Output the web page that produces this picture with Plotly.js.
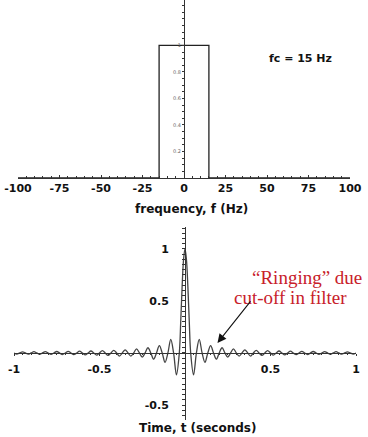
<!DOCTYPE html>
<html>
<head>
<meta charset="utf-8">
<script src="https://cdn.plot.ly/plotly-3.0.1.min.js"></script>
<style>
html,body{margin:0;padding:0;background:#fff;}
#chart{width:368px;height:437px;}
</style>
</head>
<body>
<div id="chart"></div>
<script>
// ---- top panel: ideal low-pass filter, fc = 15 Hz ----
const freqHz = [-100, -15, -15, 15, 15, 100];
const filterGain = [0, 0, 1, 1, 0, 0];
const freqTickVals = [-100, -75, -50, -25, 0, 25, 50, 75, 100];
const freqTickText = ['-100', '-75', '-50', '-25', '0', '25', '50', '75', '100'];
const gainTickVals = [0.2, 0.4, 0.6, 0.8, 1];
const gainTickText = ['0.2', '0.4', '0.6', '0.8', '1'];

// ---- bottom panel: impulse response (ringing) ----
const timeS = [
  -1, -0.9833, -0.9667, -0.95, -0.9333, -0.9167, -0.9, -0.8833, -0.8667, -0.85,
  -0.8333, -0.8167, -0.8, -0.7833, -0.7667, -0.75, -0.7333, -0.7167, -0.7, -0.6833,
  -0.6667, -0.65, -0.6333, -0.6167, -0.6, -0.5833, -0.5667, -0.55, -0.5333, -0.5167,
  -0.5, -0.4833, -0.4667, -0.45, -0.4333, -0.4167, -0.4, -0.3833, -0.3667, -0.35,
  -0.3333, -0.3167, -0.3, -0.2833, -0.2667, -0.25, -0.2333, -0.2167, -0.2, -0.1833,
  -0.1667, -0.15, -0.1333, -0.1167, -0.1, -0.0833, -0.0667, -0.05, -0.0333, -0.025,
  -0.0167, -0.0083, 0,
  0.0083, 0.0167, 0.025, 0.0333, 0.05, 0.0667, 0.0833, 0.1, 0.1167, 0.1333,
  0.15, 0.1667, 0.1833, 0.2, 0.2167, 0.2333, 0.25, 0.2667, 0.2833, 0.3,
  0.3167, 0.3333, 0.35, 0.3667, 0.3833, 0.4, 0.4167, 0.4333, 0.45, 0.4667,
  0.4833, 0.5, 0.5167, 0.5333, 0.55, 0.5667, 0.5833, 0.6, 0.6167, 0.6333,
  0.65, 0.6667, 0.6833, 0.7, 0.7167, 0.7333, 0.75, 0.7667, 0.7833, 0.8,
  0.8167, 0.8333, 0.85, 0.8667, 0.8833, 0.9, 0.9167, 0.9333, 0.95, 0.9667,
  0.9833, 1
];
const impulse = [
  0, -0.011, 0, 0.011, 0, -0.012, 0, 0.012, 0, -0.012,
  0, 0.013, 0, -0.014, 0, 0.014, 0, -0.015, 0, 0.016,
  0, -0.016, 0, 0.017, 0, -0.018, 0, 0.019, 0, -0.021,
  0, 0.022, 0, -0.024, 0, 0.025, 0, -0.03, 0, 0.03,
  0, -0.03, 0, 0.04, 0, -0.04, 0, 0.05, 0, -0.06,
  0, 0.07, 0, -0.09, 0, 0.13, 0, -0.21, 0, 0.30,
  0.64, 0.90, 1,
  0.90, 0.64, 0.30, 0, -0.21, 0, 0.13, 0, -0.09, 0,
  0.07, 0, -0.06, 0, 0.05, 0, -0.04, 0, 0.04, 0,
  -0.03, 0, 0.03, 0, -0.03, 0, 0.025, 0, -0.024, 0,
  0.022, 0, -0.021, 0, 0.019, 0, -0.018, 0, 0.017, 0,
  -0.016, 0, 0.016, 0, -0.015, 0, 0.014, 0, -0.014, 0,
  0.013, 0, -0.012, 0, 0.012, 0, -0.012, 0, 0.011, 0,
  -0.011, 0
];
const timeTickVals = [-1, -0.5, 0.5, 1];
const timeTickText = ['-1', '-0.5', '0.5', '1'];
const ampTickVals = [-0.5, 0.5, 1];
const ampTickText = ['-0.5', '0.5', '1'];

const W = 368, H = 437;
const boldFont = {family: 'DejaVu Sans, Arial, sans-serif', size: 11, color: '#111', weight: 'bold'};
const axisCol = '#333';

const traces = [
  {x: freqHz, y: filterGain, xaxis: 'x', yaxis: 'y', mode: 'lines',
   line: {color: '#222', width: 1.3}, hoverinfo: 'skip', cliponaxis: false},
  {x: timeS, y: impulse, xaxis: 'x2', yaxis: 'y2', mode: 'lines',
   line: {color: '#444', width: 1.3, shape: 'spline', smoothing: 1}, hoverinfo: 'skip'}
];

const layout = {
  width: W, height: H,
  margin: {l: 0, r: 0, t: 0, b: 0},
  paper_bgcolor: '#fff', plot_bgcolor: 'rgba(0,0,0,0)',
  showlegend: false,
  xaxis: {
    domain: [18 / W, 350 / W], range: [-100, 100], anchor: 'y',
    showline: true, linecolor: axisCol, linewidth: 1, showgrid: false, zeroline: false,
    tickmode: 'array', tickvals: freqTickVals, ticktext: freqTickText,
    ticks: 'inside', ticklen: 3, tickcolor: axisCol, tickwidth: 1,
    minor: {dtick: 5, tick0: 0, ticks: 'inside', ticklen: 2, tickcolor: axisCol, showgrid: false},
    tickfont: boldFont, fixedrange: true
  },
  yaxis: {
    domain: [1 - 178 / H, 1], range: [0, 1.343], anchor: 'free', position: 0.5,
    showline: true, linecolor: axisCol, linewidth: 1, showgrid: false, zeroline: false,
    tickmode: 'array', tickvals: gainTickVals, ticktext: gainTickText,
    ticks: 'outside', ticklen: 2, tickcolor: axisCol,
    minor: {dtick: 0.05, tick0: 0, ticks: 'outside', ticklen: 2, tickcolor: axisCol, showgrid: false},
    tickfont: {family: 'DejaVu Sans, Arial, sans-serif', size: 5, color: '#666'}, fixedrange: true
  },
  xaxis2: {
    domain: [14 / W, 356 / W], range: [-1, 1], anchor: 'free', position: 1 - 353 / H,
    showline: true, linecolor: axisCol, linewidth: 1, showgrid: false, zeroline: false,
    tickmode: 'array', tickvals: timeTickVals, ticktext: timeTickText,
    ticks: 'outside', ticklen: 2, tickcolor: axisCol,
    minor: {dtick: 0.05, tick0: 0, ticks: 'outside', ticklen: 1, tickcolor: axisCol, showgrid: false},
    tickfont: boldFont, ticklabelstandoff: 4, fixedrange: true
  },
  yaxis2: {
    domain: [1 - 420 / H, 1 - 227 / H], range: [-0.644, 1.21], anchor: 'free', position: 185 / W,
    showline: true, linecolor: axisCol, linewidth: 1, showgrid: false, zeroline: false,
    tickmode: 'array', tickvals: ampTickVals, ticktext: ampTickText,
    ticks: 'outside', ticklen: 3, tickcolor: axisCol,
    minor: {dtick: 0.05, tick0: 0, ticks: 'outside', ticklen: 3, tickcolor: axisCol, showgrid: false},
    tickfont: boldFont, ticklabelstandoff: 11, fixedrange: true
  },
  annotations: [
    {xref: 'paper', yref: 'paper', x: 191 / W, y: 1 - 208.5 / H, text: 'frequency, f (Hz)',
     showarrow: false, xanchor: 'center', yanchor: 'middle',
     font: {family: 'DejaVu Sans, Arial, sans-serif', size: 12, color: '#111', weight: 'bold'}},
    {xref: 'paper', yref: 'paper', x: 198 / W, y: 1 - 428 / H, text: 'Time, t (seconds)',
     showarrow: false, xanchor: 'center', yanchor: 'middle',
     font: {family: 'DejaVu Sans, Arial, sans-serif', size: 12, color: '#111', weight: 'bold'}},
    {xref: 'paper', yref: 'paper', x: 300 / W, y: 1 - 58 / H, text: 'fc = 15 Hz',
     showarrow: false, xanchor: 'center', yanchor: 'middle',
     font: {family: 'DejaVu Sans, Arial, sans-serif', size: 11, color: '#111', weight: 'bold'}},
    {xref: 'paper', yref: 'paper', x: 250 / W, y: 1 - 277 / H, text: '\u201CRinging\u201D due',
     showarrow: false, xanchor: 'left', yanchor: 'middle',
     font: {family: 'Liberation Serif, Times New Roman, serif', size: 19, color: '#c8202a'}},
    {xref: 'paper', yref: 'paper', x: 232 / W, y: 1 - 297 / H, text: 'cut-off in filter',
     showarrow: false, xanchor: 'left', yanchor: 'middle',
     font: {family: 'Liberation Serif, Times New Roman, serif', size: 19, color: '#c8202a'}},
    {xref: 'x2', yref: 'y2', x: 0.19, y: 0.096, axref: 'x2', ayref: 'y2', ax: 0.39, ay: 0.51,
     text: '', showarrow: true, arrowhead: 2, arrowsize: 1.6, arrowwidth: 1.1, arrowcolor: '#111'}
  ]
};

Plotly.newPlot('chart', traces, layout, {staticPlot: true, displayModeBar: false});
</script>
</body>
</html>
